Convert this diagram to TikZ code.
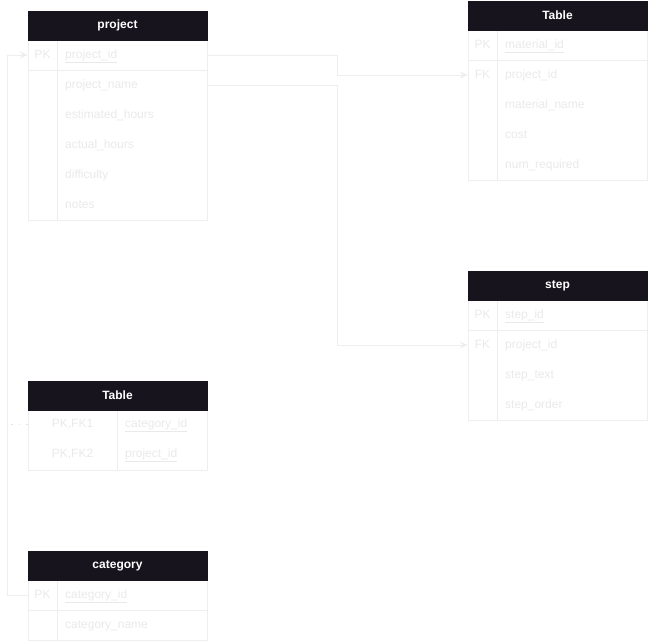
\documentclass[tikz,border=0pt]{standalone}
\usepackage{fontspec}
\setmainfont{Liberation Sans}
\usetikzlibrary{arrows.meta}
\definecolor{hdrc}{HTML}{18141D}
\definecolor{linec}{HTML}{EEEEEE}
\definecolor{txtc}{HTML}{E9E9E9}
\tikzset{
  hdr/.style={fill=hdrc, draw=hdrc, minimum width=179pt, minimum height=29pt, inner sep=0pt, text=white, font=\fontsize{12}{14}\selectfont\bfseries},
  rowbox/.style={minimum width=179pt, minimum height=30pt, inner sep=0pt, draw=none},
  fld/.style={text=txtc, anchor=west, inner sep=0pt, text height=9pt, text depth=3pt, font=\fontsize{12}{14}\selectfont},
  keyt/.style={text=txtc, anchor=center, inner sep=0pt, text height=9pt, text depth=3pt, font=\fontsize{12}{14}\selectfont},
  tline/.style={draw=linec, line width=1pt},
  conn/.style={draw=linec, line width=1pt, -{Stealth[length=8pt,width=7pt]}},
}
\begin{document}
\begin{tikzpicture}[x=1pt,y=-1pt]
\useasboundingbox (0,0) rectangle (648,641);

% ---------------- project ----------------
\draw[tline] (28,11) rectangle (207,220);
\draw[tline] (57,40) -- (57,220);
\draw[tline] (28,70) -- (207,70);
\node[hdr] (p-h) at (117.5,25.5) {project};
\node[rowbox] (p-pk) at (117.5,55) {};
\node[rowbox] (p-r1) at (117.5,85) {};
\node[keyt] (p-pkk) at (42.5,55.5) {PK};
\node[fld] (p-f0) at (65,55.5) {\underline{project\_id}};
\node[fld] (p-f1) at (65,85.5) {project\_name};
\node[fld] (p-f2) at (65,115.5) {estimated\_hours};
\node[fld] (p-f3) at (65,145.5) {actual\_hours};
\node[fld] (p-f4) at (65,175.5) {difficulty};
\node[fld] (p-f5) at (65,205.5) {notes};

% ---------------- material Table ----------------
\draw[tline] (468,1) rectangle (647,180);
\draw[tline] (497,30) -- (497,180);
\draw[tline] (468,60) -- (647,60);
\node[hdr] (m-h) at (557.5,15.5) {Table};
\node[rowbox] (m-fk) at (557.5,75) {};
\node[keyt] (m-pkk) at (482.5,45.5) {PK};
\node[keyt] (m-fkk) at (482.5,75.5) {FK};
\node[fld] (m-f0) at (505,45.5) {\underline{material\_id}};
\node[fld] (m-f1) at (505,75.5) {project\_id};
\node[fld] (m-f2) at (505,105.5) {material\_name};
\node[fld] (m-f3) at (505,135.5) {cost};
\node[fld] (m-f4) at (505,165.5) {num\_required};

% ---------------- step ----------------
\draw[tline] (468,271) rectangle (647,420);
\draw[tline] (497,300) -- (497,420);
\draw[tline] (468,330) -- (647,330);
\node[hdr] (s-h) at (557.5,285.5) {step};
\node[rowbox] (s-fk) at (557.5,345) {};
\node[keyt] (s-pkk) at (482.5,315.5) {PK};
\node[keyt] (s-fkk) at (482.5,345.5) {FK};
\node[fld] (s-f0) at (505,315.5) {\underline{step\_id}};
\node[fld] (s-f1) at (505,345.5) {project\_id};
\node[fld] (s-f2) at (505,375.5) {step\_text};
\node[fld] (s-f3) at (505,405.5) {step\_order};

% ---------------- junction Table ----------------
\draw[tline] (28,381) rectangle (207,470);
\draw[tline] (117,410) -- (117,470);
\node[hdr] (j-h) at (117.5,395.5) {Table};
\node[rowbox] (j-r1) at (117.5,424) {};
\node[keyt] (j-k1) at (72.5,424.5) {PK,FK1};
\node[keyt] (j-k2) at (72.5,454.5) {PK,FK2};
\node[fld] (j-f1) at (125,424.5) {\underline{category\_id}};
\node[fld] (j-f2) at (125,454.5) {\underline{project\_id}};

% ---------------- category ----------------
\draw[tline] (28,551) rectangle (207,640);
\draw[tline] (57,580) -- (57,640);
\draw[tline] (28,610) -- (207,610);
\node[hdr] (c-h) at (117.5,565.5) {category};
\node[rowbox] (c-pk) at (117.5,595) {};
\node[keyt] (c-pkk) at (42.5,595.5) {PK};
\node[fld] (c-f0) at (65,595.5) {\underline{category\_id}};
\node[fld] (c-f1) at (65,625.5) {category\_name};

% ---------------- connectors ----------------
\draw[conn] (p-pk.east) -- ++(130,0) |- (m-fk.west);
\draw[conn] (p-r1.east) -- ++(130,0) |- (s-fk.west);
\draw[conn] (c-pk.west) -- ++(-20,0) |- (p-pk.west);
\draw[draw=linec!80!black!20!linec, line width=1pt, dash pattern=on 1.5pt off 6pt] (j-r1.west) -- ++(-19,0);

\end{tikzpicture}
\end{document}
